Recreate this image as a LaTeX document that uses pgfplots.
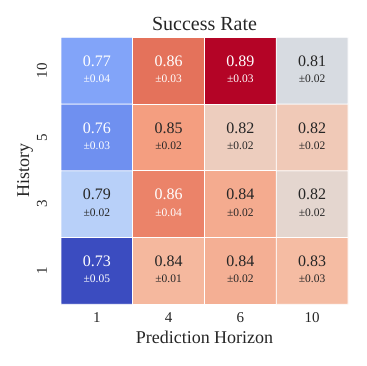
\documentclass[border=0pt]{standalone}
\usepackage{pgfplots}
\pgfplotsset{compat=1.18}
\usepackage{pgfplotstable}
\usepackage{fontspec}
\setmainfont{Liberation Serif}
\definecolor{darktext}{RGB}{38,38,38}
\pgfplotstableread{
x y m z s w
0 0 0.73 0.730 0.05 1
1 0 0.84 0.836 0.01 0
2 0 0.84 0.840 0.02 0
3 0 0.83 0.834 0.03 0
0 1 0.79 0.790 0.02 0
1 1 0.86 0.858 0.04 1
2 1 0.84 0.842 0.02 0
3 1 0.82 0.816 0.02 0
0 2 0.76 0.756 0.03 1
1 2 0.85 0.848 0.02 0
2 2 0.82 0.823 0.02 0
3 2 0.82 0.826 0.02 0
0 3 0.77 0.765 0.04 1
1 3 0.86 0.864 0.03 1
2 3 0.89 0.890 0.03 1
3 3 0.81 0.807 0.02 0
}\datatable
\begin{document}
\begin{tikzpicture}
\begin{axis}[
  at={(0,0)}, anchor=south west,
  width=287pt, height=267pt, scale only axis,
  xmin=-0.5, xmax=3.5, ymin=-0.5, ymax=3.5,
  xtick={0,1,2,3}, xticklabels={1,4,6,10},
  ytick={0,1,2,3}, yticklabels={1,3,5,10},
  major tick length=0pt,
  axis line style={draw=none},
  /pgf/number format/assume math mode=true,
  colormap={coolwarm}{rgb255=(59,76,192) rgb255=(98,130,234) rgb255=(141,176,254) rgb255=(184,208,249) rgb255=(221,221,221) rgb255=(245,196,173) rgb255=(244,154,123) rgb255=(221,96,77) rgb255=(180,4,38)},
  point meta min=0.73, point meta max=0.89,
  ticklabel style={font=\fontsize{15}{15}\selectfont, text=darktext},
  xticklabel style={yshift=-5pt},
  yticklabel style={xshift=-10.5pt, rotate=90, anchor=south},
  title={Success Rate},
  every axis title/.style={font=\fontsize{20}{20}\selectfont, text=darktext, at={([yshift=13pt]axis description cs:0.5,1)}, anchor=center},
  xlabel={Prediction Horizon},
  every axis x label/.style={font=\fontsize{18}{18}\selectfont, text=darktext, at={([yshift=-33pt]axis description cs:0.5,0)}, anchor=center},
  ylabel={History},
  every axis y label/.style={font=\fontsize{18}{18}\selectfont, text=darktext, at={([xshift=-36pt]axis description cs:0,0.5)}, anchor=center, rotate=90},
]
\addplot[matrix plot*, mesh/cols=4, point meta=explicit, draw=white, line width=0.8pt] table[x=x, y=y, meta=z] {\datatable};
\addplot[only marks, mark=none, point meta=\thisrow{m},
  visualization depends on={\thisrow{w}\as\wc},
  nodes near coords={\ifdim\wc pt>0.5pt\color{white}\else\color{darktext}\fi\pgfmathprintnumber[fixed,precision=2,zerofill]{\pgfplotspointmeta}},
  nodes near coords style={anchor=center, yshift=9.5pt, font=\fontsize{16}{16}\selectfont, inner sep=0pt}]
  table[x=x, y=y] {\datatable};
\addplot[only marks, mark=none, point meta=\thisrow{s},
  visualization depends on={\thisrow{w}\as\wc},
  nodes near coords={\ifdim\wc pt>0.5pt\color{white}\else\color{darktext}\fi ±\pgfmathprintnumber[fixed,precision=2,zerofill]{\pgfplotspointmeta}},
  nodes near coords style={anchor=center, yshift=-8.3pt, font=\fontsize{11.5}{11.5}\selectfont, inner sep=0pt}]
  table[x=x, y=y] {\datatable};
\end{axis}
\pgfresetboundingbox
\path (-61pt,-61.7pt) rectangle (305pt,304.3pt);
\end{tikzpicture}
\end{document}
